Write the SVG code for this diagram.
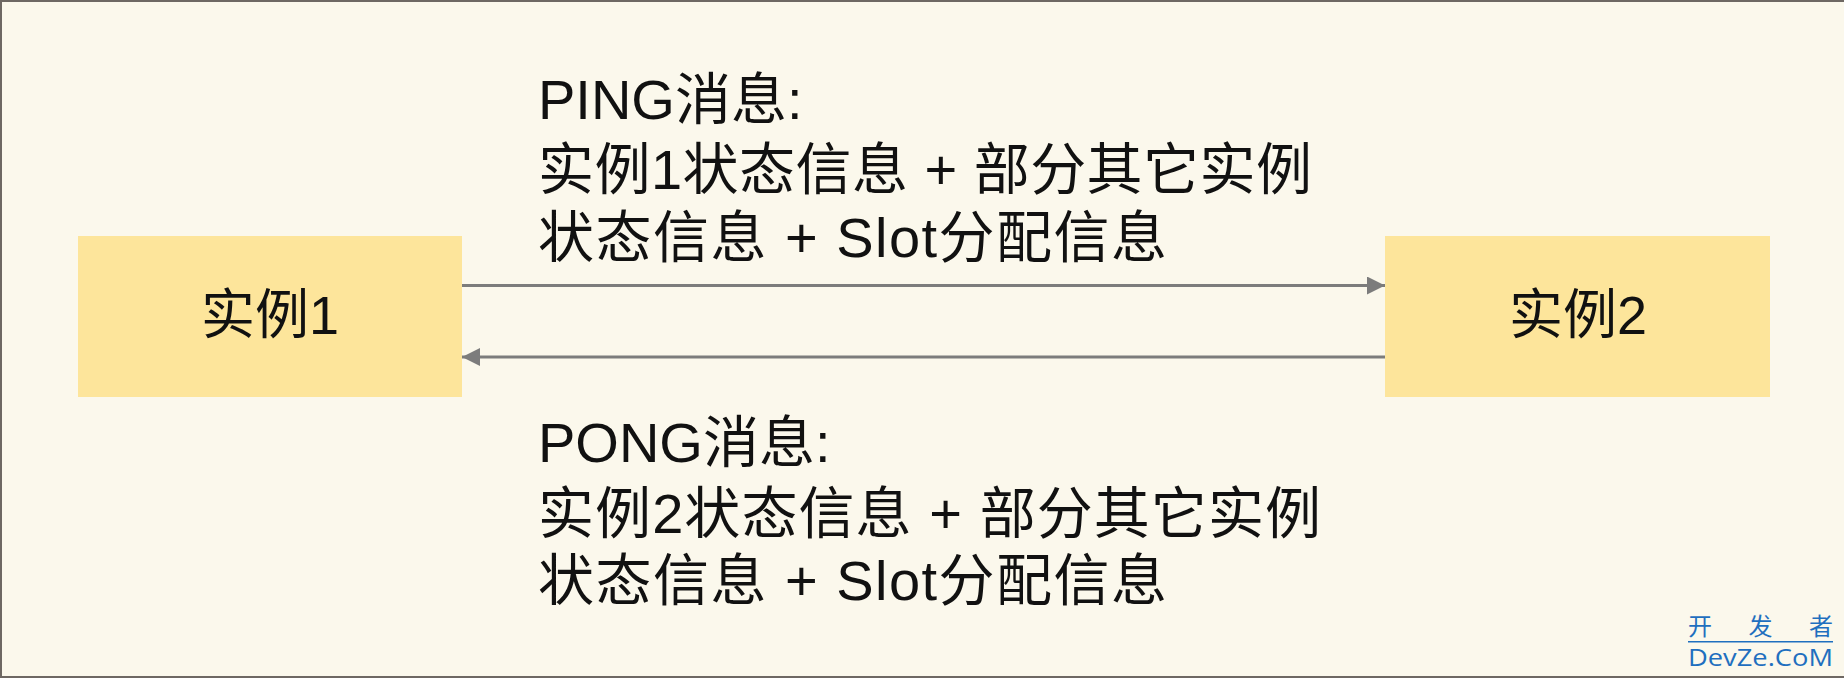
<svg xmlns="http://www.w3.org/2000/svg" width="1844" height="678" viewBox="0 0 1844 678">
<style>
.bg{fill:#fbf8ec}
.box{fill:#fde59b}
.lbl{font-family:"Liberation Sans","Noto Sans CJK SC",sans-serif;fill:#111;}
.msg{font-size:56px}
.node{font-size:54px}
.conn{stroke:#7c7c7c;stroke-width:2.8;fill:none}
.wm{font-family:"Open Sans","Noto Sans CJK SC",sans-serif;fill:#1f6fbf}
</style>
<defs>
<marker id="ah" viewBox="0 0 18 18" refX="18" refY="9" markerWidth="18" markerHeight="18" markerUnits="userSpaceOnUse" orient="auto">
<path d="M0,0 L18,9 L0,18 Z" fill="#7c7c7c"/>
</marker>
</defs>
<rect class="bg" x="0" y="0" width="1844" height="678"/>
<rect x="0" y="0" width="1844" height="2" fill="#6e6863"/>
<rect x="0" y="0" width="2" height="678" fill="#6e6863"/>
<rect x="0" y="676" width="1844" height="2" fill="#6e6863"/>
<g id="node1">
<rect class="box" x="78" y="236" width="384" height="161"/>
<text class="lbl node" x="270" y="334" text-anchor="middle">实例1</text>
</g>
<g id="node2">
<rect class="box" x="1385" y="236" width="385" height="161"/>
<text class="lbl node" x="1578" y="334" text-anchor="middle">实例2</text>
</g>
<g id="connectors">
<line class="conn" x1="462" y1="285.5" x2="1385" y2="285.5" marker-end="url(#ah)"/>
<line class="conn" x1="1385" y1="357" x2="462" y2="357" marker-end="url(#ah)"/>
</g>
<g id="ping-label">
<text class="lbl msg" x="538" y="119">PING消息:</text>
<text class="lbl msg" x="538" y="189" textLength="774" lengthAdjust="spacing">实例1状态信息 + 部分其它实例</text>
<text class="lbl msg" x="538" y="257" textLength="629" lengthAdjust="spacing">状态信息 + Slot分配信息</text>
</g>
<g id="pong-label">
<text class="lbl msg" x="538" y="462">PONG消息:</text>
<text class="lbl msg" x="538" y="533" textLength="783" lengthAdjust="spacing">实例2状态信息 + 部分其它实例</text>
<text class="lbl msg" x="538" y="600" textLength="629" lengthAdjust="spacing">状态信息 + Slot分配信息</text>
</g>
<g id="watermark">
<text class="wm" x="1688" y="635" font-size="24" textLength="145" lengthAdjust="spacing">开 发 者</text>
<rect x="1688" y="641" width="145" height="1.5" fill="#1f6fbf"/>
<text class="wm" x="1688" y="666" font-size="24" textLength="145" lengthAdjust="spacingAndGlyphs">DevZe.CoM</text>
</g>
</svg>
